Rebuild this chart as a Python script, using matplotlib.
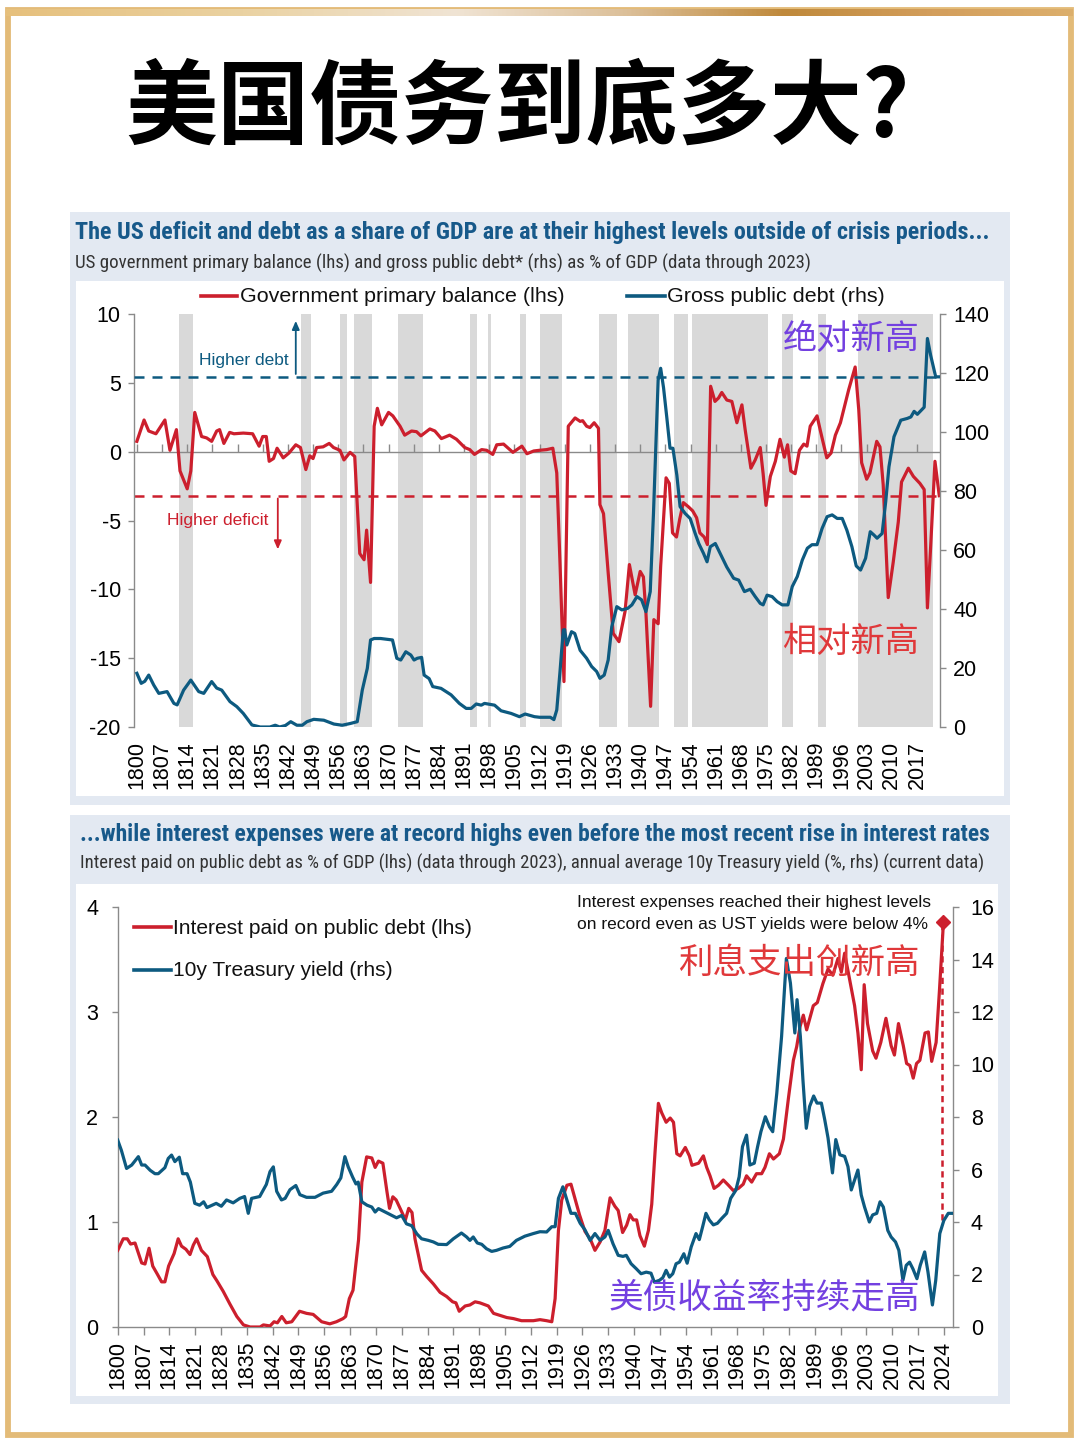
import numpy as np
import matplotlib
matplotlib.use("Agg")
import matplotlib.pyplot as plt
import matplotlib.font_manager as fm
from matplotlib.patches import Rectangle
from matplotlib.lines import Line2D
from matplotlib.colors import LinearSegmentedColormap

# ---------------- DATA ----------------
# Top chart: primary balance (% GDP, lhs)
pb_years = [1800, 1802, 1803.3, 1805.3, 1807.8, 1809.2, 1811, 1812, 1814, 1815, 1816.1, 1818, 1819.4,
            1820.8, 1822.2, 1823, 1824.2, 1825.8, 1827, 1829.6, 1832.2, 1834, 1835, 1836, 1836.8, 1838,
            1839, 1840.7, 1842.3, 1844.2, 1845.5, 1847, 1848.1, 1849, 1850, 1851.8, 1853.5, 1854.7,
            1856.5, 1857.6, 1859.3, 1860.6, 1862, 1863.2, 1863.9, 1865, 1866, 1866.9, 1868.1, 1870,
            1871.2, 1873.2, 1874.5, 1876.4, 1877.8, 1879, 1881.5, 1882.9, 1884.7, 1887, 1888.9, 1891.2,
            1892.6, 1893.9, 1895.9, 1897.3, 1899, 1900.1, 1902, 1904.6, 1907.1, 1908.5, 1910.4, 1912,
            1914, 1915.7, 1916.8, 1917.7, 1918.8, 1920, 1921.9, 1923.3, 1924, 1925.1, 1926, 1927.2,
            1928.4, 1928.8, 1929.8, 1931.1, 1932.5, 1934.1, 1935.8, 1937, 1938.6, 1940, 1940.9, 1941.6,
            1942.9, 1943.8, 1945, 1945.7, 1947.2, 1948.1, 1949, 1950.1, 1951, 1952, 1953.4, 1954.6,
            1955.7, 1956.6, 1957.8, 1958.7, 1959.6, 1960.8, 1961.8, 1962.7, 1964.1, 1965.5, 1966.9,
            1968.3, 1969.2, 1970.8, 1972, 1973.4, 1974.2, 1975, 1976.2, 1977.6, 1978.9, 1980.1, 1981,
            1981.9, 1983.1, 1984.3, 1985.5, 1986.4, 1987.3, 1989.2, 1990.1, 1991.9, 1993.1, 1994.3,
            1995.7, 1997.1, 1998, 1999.8, 2000.8, 2001.6, 2003, 2003.9, 2005.8, 2006.7, 2007.6, 2009,
            2010.4, 2011.8, 2012.7, 2014.6, 2016, 2017.8, 2019, 2019.9, 2020.8, 2022, 2023.2]
pb_vals = [0.75, 2.3, 1.5, 1.3, 2.3, 0.1, 1.6, -1.4, -2.7, -1.4, 2.85, 1.1, 1.0,
           0.75, 1.5, 1.6, 0.6, 1.4, 1.3, 1.35, 1.3, 0.4, 1.1, 1.1, -0.7, -0.5,
           0.25, -0.45, -0.1, 0.5, 0.3, -1.3, -0.3, -0.5, 0.3, 0.35, 0.6, 0.3,
           0.1, -0.6, -0.05, -0.35, -7.4, -7.85, -5.7, -9.5, 1.85, 3.15, 1.95, 2.85,
           2.6, 1.85, 1.2, 1.5, 1.45, 1.15, 1.65, 1.5, 0.95, 1.2, 0.9, 0.3,
           0.15, -0.2, 0.15, 0.1, -0.2, 0.5, 0.55, -0.05, 0.4, -0.15, 0.05, 0.1,
           0.15, 0.25, -1.55, -8.1, -16.7, 1.85, 2.45, 2.2, 2.25, 1.85, 1.75, 2.1,
           1.7, -3.85, -4.5, -8.8, -13.2, -13.8, -11.6, -8.2, -10.4, -8.7, -9.1, -11.7,
           -18.5, -12.2, -12.5, -8.3, -1.9, -2.3, -5.9, -6.2, -4.9, -3.7, -4.0, -4.3,
           -4.8, -5.9, -6.2, -6.75, 4.75, 3.65, 3.9, 4.3, 3.75, 3.65, 2.1,
           3.4, 1.6, -1.2, -0.6, 0.3, -1.6, -3.9, -1.8, -0.7, 0.9, -0.4, 0.5,
           -1.4, -1.6, 0.1, 0.55, 0.4, 1.85, 2.6, 1.55, -0.45, -0.1, 1.2,
           2.1, 3.55, 4.5, 6.15, 3.05, -0.8, -2.0, -1.55, 0.75, 0.35, -2.4, -10.6,
           -8.0, -5.1, -2.2, -1.2, -1.8, -2.3, -2.75, -11.35, -6.9, -0.7, -3.2]

# Top chart: gross public debt (% GDP, rhs)
debt_years = [1800, 1801.2, 1802.2, 1803.3, 1804.7, 1806.1, 1808.4, 1810.3, 1811.2, 1813, 1815, 1817.2,
              1818.6, 1820.8, 1822.2, 1823.6, 1825.9, 1827.8, 1829.6, 1832, 1834.3, 1837, 1838.5, 1839.7,
              1841.3, 1842.8, 1844.5, 1846, 1847.3, 1849.2, 1852, 1854.8, 1857.1, 1859.4, 1861.3, 1862.7,
              1864.1, 1865, 1866, 1867.8, 1871.1, 1872.3, 1873.4, 1874.8, 1876.2, 1877.1, 1878, 1879.2,
              1879.9, 1881.3, 1882.3, 1884.6, 1887.4, 1889.7, 1891.6, 1893, 1894.4, 1895.8, 1896.7,
              1899.5, 1901.3, 1904.1, 1906.4, 1908, 1910.6, 1912, 1915, 1916, 1916.8, 1917.7, 1918.6,
              1919, 1919.6, 1920.9, 1921.8, 1923.3, 1925.1, 1926.5, 1927.9, 1928.8, 1930, 1931.1, 1932.1,
              1933.5, 1934.9, 1936.5, 1937.7, 1939.1, 1940.4, 1941.6, 1942.8, 1943.7, 1944.6, 1945,
              1945.7, 1946.5, 1947.4, 1948.3, 1949.1, 1950.2, 1951.1, 1952.5, 1953.9, 1955.3, 1956.3,
              1957.6, 1958.6, 1959.5, 1960.9, 1962.7, 1964.1, 1966, 1967.4, 1969, 1970.6, 1972, 1973.4,
              1974.2, 1975.3, 1976.7, 1978.1, 1979.5, 1981.1, 1982.3, 1983.7, 1985.1, 1986.5, 1987.8,
              1989.2, 1990.6, 1992, 1993.4, 1994.8, 1996.2, 1997.5, 1998.9, 2000.1, 2001.3, 2002.7, 2004,
              2005, 2005.9, 2007.3, 2008.3, 2009.2, 2010.6, 2012.5, 2014.3, 2015.3, 2016.2, 2017.1,
              2019, 2019.9, 2020.8, 2022.2, 2023.2]
debt_vals = [18.2, 14.8, 15.5, 17.6, 14.2, 11.4, 12.0, 8.0, 7.5, 12.5, 15.9, 12.0,
             11.4, 15.4, 13.2, 12.5, 8.6, 6.9, 4.6, 0.7, 0.0, 0.0, 0.6, 0.0,
             0.5, 1.8, 0.6, 0.6, 1.8, 2.6, 2.3, 1.0, 0.6, 1.2, 1.8, 12.5,
             19.9, 29.5, 30.0, 30.0, 29.5, 23.3, 22.7, 25.5, 24.4, 22.7, 23.3, 23.6,
             17.6, 16.4, 13.7, 13.1, 10.9, 8.0, 6.3, 6.3, 7.8, 7.4, 8.0,
             7.4, 5.5, 4.6, 3.5, 4.4, 3.5, 3.3, 3.3, 2.5, 5.8, 18.8, 32.9,
             33.0, 27.8, 32.3, 31.7, 26.0, 23.3, 20.5, 18.8, 16.5, 17.6, 22.7, 34.0,
             40.8, 39.7, 40.2, 41.4, 44.2, 43.1, 39.1, 45.9, 72.4, 104.0, 117.6,
             121.6, 115.0, 105.0, 94.5, 94.5, 85.4, 74.7, 72.4, 70.7, 65.6, 62.2,
             58.9, 56.0, 61.1, 62.2, 57.7, 54.2, 50.4, 49.8, 45.9, 46.7, 44.2, 41.9,
             41.4, 44.7, 44.2, 42.5, 41.4, 41.4, 47.6, 51.0, 56.6, 60.6, 61.8,
             61.8, 67.3, 71.3, 71.9, 70.7, 70.7, 66.7, 61.1, 54.6, 53.2, 57.2, 66.2,
             65.1, 64.0, 65.6, 76.4, 88.2, 98.4, 104.0, 104.6, 105.1, 107.0, 106.0,
             108.4, 131.7, 126.0, 118.7, 118.7]

# Crisis periods (shaded)
crisis_start = [1811.6, 1845.6, 1856.5, 1860.5, 1872.7, 1892.6, 1897.6, 1906.6, 1912.2, 1928.6,
                1936.6, 1949.4, 1954.4, 1979.5, 1989.5, 2000.6]
crisis_end = [1815.5, 1848.4, 1858.4, 1865.4, 1879.5, 1894.5, 1898.4, 1908.3, 1918.3, 1933.6,
              1945.2, 1953.3, 1975.6, 1982.5, 1991.7, 2021.5]

debt_ref = 118.7      # rhs, dashed blue
deficit_ref = -3.2    # lhs, dashed red

# Bottom chart: interest paid (% GDP, lhs)
int_years = [1800, 1801.5, 1802.6, 1803.5, 1804.7, 1806.5, 1807.4, 1808.5, 1809.5, 1810.8, 1811.9, 1812.8,
             1813.8, 1815.3, 1816.4, 1817.3, 1818.5, 1819.6, 1820.5, 1821.4, 1822.7, 1824.3, 1825.8,
             1826.9, 1828.6, 1830.4, 1832.3, 1834.1, 1835.9, 1838.6, 1839.5, 1841.3, 1842.4, 1843.3,
             1844.5, 1845.7, 1847.2, 1849.3, 1851.2, 1853, 1855.3, 1857.5, 1859.3, 1861.1, 1861.8,
             1862.8, 1863.8, 1865.3, 1866.2, 1867.5, 1868.9, 1869.8, 1870.7, 1871.9, 1873, 1873.7,
             1874.6, 1875.5, 1877.1, 1878, 1878.9, 1879.8, 1880.6, 1882.4, 1883.8, 1885.6, 1887.4,
             1889.2, 1890.8, 1891.7, 1892.6, 1894.2, 1895.5, 1896.9, 1898.2, 1900.5, 1901.9, 1903.7,
             1905.5, 1907.3, 1909.5, 1912.7, 1914.5, 1916.3, 1917.7, 1918.6, 1919.5, 1920.4, 1921.8,
             1922.9, 1924.1, 1925.2, 1926.7, 1928.1, 1929.4, 1930.8, 1932.1, 1933.5, 1934.8, 1935.7,
             1936.9, 1938, 1938.9, 1939.8, 1940.7, 1941.6, 1942.8, 1943.9, 1944.8, 1945.7, 1946.6,
             1947.5, 1948.7, 1949.8, 1950.7, 1951.6, 1952.5, 1953.9, 1955, 1955.7, 1957.5, 1958.8,
             1959.7, 1960.6, 1961.7, 1962.9, 1964.2, 1965.6, 1966.9, 1968.3, 1969.6, 1970.5, 1971.9,
             1973.2, 1974.6, 1975.5, 1976.7, 1977.8, 1979.4, 1980.5, 1981.9, 1983.2, 1984.1, 1985,
             1985.9, 1986.8, 1988.6, 1989.7, 1991.2, 1992.6, 1993.9, 1995.3, 1996.2, 1997.1, 1998.5,
             1999.8, 2000.7, 2001.6, 2002.4, 2003.3, 2004.7, 2005.6, 2006.9, 2008.3, 2009.7, 2010.6,
             2011.7, 2013, 2013.9, 2014.8, 2015.7, 2016.6, 2017.5, 2018.9, 2019.8, 2020.7, 2021.9,
             2022.8, 2023.9]
int_vals = [0.73, 0.84, 0.84, 0.79, 0.8, 0.61, 0.6, 0.75, 0.58, 0.5, 0.43, 0.43,
            0.58, 0.7, 0.84, 0.77, 0.74, 0.69, 0.78, 0.84, 0.73, 0.67, 0.5,
            0.44, 0.34, 0.22, 0.1, 0.02, 0.0, 0.0, 0.02, 0.01, 0.05, 0.04,
            0.1, 0.04, 0.05, 0.15, 0.13, 0.12, 0.05, 0.03, 0.05, 0.08, 0.1,
            0.27, 0.35, 0.83, 1.38, 1.62, 1.61, 1.52, 1.58, 1.56, 1.29, 1.13,
            1.24, 1.21, 1.09, 1.02, 1.13, 1.09, 0.84, 0.54, 0.48, 0.41, 0.33,
            0.29, 0.24, 0.23, 0.15, 0.2, 0.21, 0.24, 0.23, 0.2, 0.13, 0.11,
            0.09, 0.08, 0.06, 0.06, 0.07, 0.06, 0.05, 0.27, 0.92, 1.21, 1.35,
            1.36, 1.21, 1.07, 0.91, 0.84, 0.73, 0.81, 0.92, 1.23, 1.15, 1.11,
            0.9, 0.97, 1.07, 1.02, 1.02, 0.87, 0.77, 0.92, 1.17, 1.67, 2.13,
            2.04, 1.95, 1.99, 1.95, 1.65, 1.63, 1.71, 1.63, 1.54, 1.56, 1.63,
            1.52, 1.44, 1.32, 1.35, 1.4, 1.35, 1.3, 1.32, 1.36, 1.44, 1.38,
            1.46, 1.46, 1.52, 1.65, 1.6, 1.65, 1.79, 2.19, 2.54, 2.67, 2.86,
            2.97, 2.83, 3.06, 3.09, 3.27, 3.41, 3.35, 3.51, 3.38, 3.56, 3.3,
            3.06, 2.8, 2.45, 3.26, 2.89, 2.63, 2.56, 2.71, 2.94, 2.68, 2.59,
            2.89, 2.68, 2.51, 2.49, 2.37, 2.51, 2.54, 2.8, 2.81, 2.53, 2.71,
            3.2, 3.86]

# Bottom chart: 10y Treasury yield (%, rhs)
yld_years = [1800, 1801, 1802.4, 1803.8, 1805.6, 1806.5, 1807.4, 1808.8, 1810.1, 1811, 1812.8, 1813.7,
             1814.6, 1815.5, 1816.7, 1817.6, 1818.8, 1819.7, 1820.9, 1822.2, 1823.3, 1824.2, 1826.7,
             1828.1, 1829.5, 1831.3, 1833.1, 1834.4, 1835.4, 1836.3, 1838.5, 1840.3, 1841.3, 1842.2,
             1843.1, 1844.4, 1845.4, 1846.7, 1848.3, 1849.4, 1851.2, 1853.5, 1855.7, 1858, 1859.4,
             1860.5, 1861.6, 1862.5, 1863.7, 1864.6, 1865.2, 1866.2, 1867.6, 1868.9, 1869.8, 1870.7,
             1872.5, 1874.3, 1875.6, 1877, 1878.3, 1879.7, 1881.1, 1882.4, 1884.2, 1885.6, 1886.9,
             1889.2, 1891, 1893.2, 1894.6, 1895.5, 1896.4, 1897.5, 1898.7, 1900, 1901.4, 1902.7,
             1904.5, 1906.3, 1908.1, 1910.4, 1912.7, 1914.5, 1916.3, 1917.7, 1918.6, 1919.5, 1920.7,
             1921.8, 1922.9, 1924.1, 1925.4, 1926.7, 1928.1, 1929.4, 1930.8, 1932.1, 1933, 1934.3,
             1935.7, 1937, 1937.9, 1939.2, 1940.6, 1941.9, 1943.3, 1944.6, 1945.5, 1946.9, 1947.8,
             1948.7, 1949.6, 1950.5, 1951.4, 1952.3, 1953.5, 1954.4, 1955.5, 1956.8, 1957.7, 1958.6,
             1959.5, 1960.4, 1961.5, 1962.6, 1963.8, 1965.1, 1966.2, 1967.6, 1968.5, 1969.4, 1970.5,
             1971.4, 1972.6, 1973.5, 1974.4, 1975.6, 1976.7, 1977.6, 1978.7, 1980, 1981.3, 1982.4,
             1983.6, 1984.2, 1985.1, 1985.8, 1986.7, 1987.6, 1988.7, 1989.6, 1990.8, 1991.7, 1992.6,
             1993.8, 1994.7, 1995.8, 1997.1, 1998, 1998.9, 1999.8, 2000.7, 2001.6, 2002.5, 2003.8,
             2004.7, 2005.8, 2006.7, 2007.6, 2008.8, 2009.7, 2010.9, 2011.8, 2012.9, 2013.8, 2014.7,
             2015.6, 2016.7, 2017.6, 2018.8, 2019.7, 2020.9, 2021.8, 2022.9, 2024, 2025.2, 2026.2]
yld_vals = [7.12, 6.73, 6.04, 6.17, 6.49, 6.17, 6.17, 5.97, 5.84, 5.84, 6.07, 6.42,
            6.55, 6.3, 6.47, 5.84, 5.84, 5.52, 4.71, 4.64, 4.77, 4.55, 4.71,
            4.6, 4.84, 4.73, 4.9, 4.97, 4.33, 4.9, 4.97, 5.43, 5.92, 6.1,
            5.17, 4.84, 4.9, 5.23, 5.39, 5.04, 4.94, 4.94, 5.1, 5.17, 5.43,
            5.68, 6.49, 6.1, 5.71, 5.45, 5.52, 4.77, 4.64, 4.57, 4.38, 4.51,
            4.38, 4.25, 4.16, 4.25, 3.93, 3.86, 3.55, 3.36, 3.3, 3.24, 3.15,
            3.14, 3.36, 3.58, 3.43, 3.3, 3.43, 3.2, 3.15, 2.98, 2.88, 2.92,
            3.01, 3.07, 3.3, 3.46, 3.56, 3.63, 3.62, 3.82, 3.82, 4.9, 5.34,
            4.84, 4.33, 4.33, 3.95, 3.7, 3.3, 3.56, 3.3, 3.43, 3.68, 3.17,
            2.73, 2.69, 2.73, 2.41, 2.22, 2.03, 2.09, 2.05, 1.71, 1.78, 1.88,
            2.16, 1.9, 2.03, 2.41, 2.47, 2.79, 2.43, 3.05, 3.56, 3.33, 3.82,
            4.33, 4.08, 3.89, 3.95, 4.14, 4.33, 4.9, 5.21, 5.72, 6.87, 7.31,
            6.17, 6.24, 6.87, 7.44, 8.01, 7.63, 7.44, 8.9, 11.06, 14.04, 13.1,
            11.2, 12.47, 11.06, 9.4, 7.57, 8.4, 8.8, 8.53, 8.53, 7.9, 7.2,
            5.87, 7.14, 6.56, 6.5, 6.11, 5.22, 5.6, 5.98, 5.03, 4.57, 4.0,
            4.27, 4.33, 4.77, 4.57, 3.68, 3.43, 3.24, 2.92, 1.78, 2.35, 2.47,
            2.22, 1.84, 2.35, 2.86, 2.09, 0.84, 1.78, 3.56, 4.06, 4.33, 4.33]

peak_year = 2023.9
peak_val = 3.86
gap_year = 2023.5
gap_low = 1.02

top_ticks = list(range(1800, 2018, 7))
bot_ticks = list(range(1800, 2025, 7))

# ---------------- STYLE ----------------
ttf = fm.fontManager.ttflist
avail = {f.name for f in ttf}
SANS = 'Liberation Sans' if 'Liberation Sans' in avail else 'DejaVu Sans'
NARROW, NSTRETCH = SANS, 'normal'
for cand in ['Liberation Sans Narrow', 'Arial Narrow', 'Roboto Condensed', 'Open Sans Condensed',
             'Noto Sans Condensed', 'DejaVu Sans Condensed']:
    if cand in avail:
        NARROW = cand
        break
else:
    cond = [f for f in ttf if str(f.stretch) in ('condensed', 'semi-condensed', '75', '87.5')
            or 'Narrow' in f.name or 'Condensed' in f.name]
    if cond:
        pref = [f for f in cond if f.name in ('Liberation Sans', 'Noto Sans', 'Roboto', 'Open Sans', 'DejaVu Sans')]
        pick = (pref or cond)[0]
        NARROW, NSTRETCH = pick.name, 'condensed'
CJK = 'Noto Sans CJK SC'
plt.rcParams['font.family'] = [SANS, 'DejaVu Sans']
plt.rcParams['axes.unicode_minus'] = False

RED = '#cc1f2d'
BLUE = '#0d5a80'
HEAD = '#17598a'
GRID = '#8a8a8a'
SHADE = '#d9d9d9'
PANEL = '#e3e9f2'
PURPLE = '#7340e0'
CRED = '#e0383a'

W, H = 1080, 1443
fig = plt.figure(figsize=(W / 100, H / 100), dpi=100)
fig.patch.set_facecolor('white')
renderer = fig.canvas.get_renderer()


def fx(x):
    return x / W


def fy(y):
    return 1 - y / H


def rect(x0, y0, x1, y1, **kw):
    r = Rectangle((fx(x0), fy(y1)), fx(x1) - fx(x0), fy(y0) - fy(y1), transform=fig.transFigure, **kw)
    fig.patches.append(r)
    return r


def fit(t, width):
    bb = t.get_window_extent(renderer)
    t.set_fontsize(t.get_fontsize() * width / bb.width)
    return t


def ftext(x, y, s, width=None, ha='left', va='center', **kw):
    t = fig.text(fx(x), fy(y), s, ha=ha, va=va, **kw)
    if width:
        fit(t, width)
    return t


# gold frame
rect(8, 10, 1071, 1435, fill=False, edgecolor='#e3bb78', lw=4.2, zorder=-4)
gax = fig.add_axes([fx(6), fy(16), fx(1067), 7 / H], zorder=-3)
cmap = LinearSegmentedColormap.from_list('gold', [(0.0, '#e6c07c'), (0.22, '#ead2a2'), (0.42, '#f0e4d4'),
                                                  (0.58, '#dcc09a'), (0.73, '#bf893b'), (0.87, '#d39e5c'),
                                                  (1.0, '#dcaf6c')])
gax.imshow(np.linspace(0, 1, 512)[None, :], aspect='auto', cmap=cmap)
gax.set_axis_off()

# title
ftext(517, 110, '美国债务到底多大?', width=785, ha='center', family=[CJK, 'DejaVu Sans'],
      fontweight='heavy', fontsize=60, color='black')

# panels
rect(70, 212, 1010, 805, facecolor=PANEL, edgecolor='none', zorder=-5)
rect(76, 281, 1004, 796, facecolor='white', edgecolor='none', zorder=-4)
rect(70, 815, 1010, 1404, facecolor=PANEL, edgecolor='none', zorder=-5)
rect(76, 884, 998, 1396, facecolor='white', edgecolor='none', zorder=-4)

ftext(75, 233, 'The US deficit and debt as a share of GDP are at their highest levels outside of crisis periods...',
      width=915, family=[NARROW, SANS], fontstretch=NSTRETCH, fontweight='bold', fontsize=15, color=HEAD)
ftext(75, 263, 'US government primary balance (lhs) and gross public debt* (rhs) as % of GDP (data through 2023)',
      width=733, family=[NARROW, SANS], fontstretch=NSTRETCH, fontsize=11, color='#333333')
ftext(80, 834, '...while interest expenses were at record highs even before the most recent rise in interest rates',
      width=913, family=[NARROW, SANS], fontstretch=NSTRETCH, fontweight='bold', fontsize=15, color=HEAD)
ftext(80, 863, 'Interest paid on public debt as % of GDP (lhs) (data through 2023), annual average 10y Treasury yield (%, rhs) (current data)',
      width=900, family=[NARROW, SANS], fontstretch=NSTRETCH, fontsize=11, color='#333333')

TICKFS = 15.5

# ---------------- TOP CHART ----------------
ax = fig.add_axes([fx(134), fy(727), fx(940) - fx(134), fy(314) - fy(727)])
ax.set_facecolor('none')
ax.set_xlim(1799.2, 2023.4)
ax.set_ylim(-20, 10)
for s0, s1 in zip(crisis_start, crisis_end):
    ax.axvspan(s0, s1, color=SHADE, lw=0, zorder=0)
ax.axhline(0, color=GRID, lw=1.0, zorder=1)
ax.vlines(top_ticks, 0, 0.55, color=GRID, lw=1.0, zorder=1)
ax.axhline(deficit_ref, color=RED, lw=1.8, ls=(0, (4, 3.2)), zorder=2)
ax.plot(pb_years, pb_vals, color=RED, lw=2.3, zorder=3, solid_joinstyle='round')
ax.set_yticks([10, 5, 0, -5, -10, -15, -20])
ax.set_xticks(top_ticks)
ax.set_xticklabels([str(t) for t in top_ticks], rotation=90)
ax.tick_params(axis='x', length=0, pad=10, labelsize=TICKFS)
ax.tick_params(axis='y', length=4.5, width=1, color=GRID, pad=5, labelsize=TICKFS)
for sp in ['top', 'right', 'bottom']:
    ax.spines[sp].set_visible(False)
ax.spines['left'].set_color(GRID)
ax.spines['left'].set_linewidth(1.0)

ax.annotate('', xy=(1844.2, 9.7), xytext=(1844.2, 5.44),
            arrowprops=dict(arrowstyle='-|>,head_length=0.5,head_width=0.22', color=BLUE, lw=1.3), zorder=4)
ax.annotate('', xy=(1839.2, -7.3), xytext=(1839.2, deficit_ref),
            arrowprops=dict(arrowstyle='-|>,head_length=0.5,head_width=0.22', color=RED, lw=1.3), zorder=4)
ax.text(1842.3, 6.6, 'Higher debt', color=BLUE, fontsize=12.5, ha='right', va='center')
ax.text(1836.6, -5.0, 'Higher deficit', color=RED, fontsize=12.5, ha='right', va='center')

ax2 = ax.twinx()
ax2.set_ylim(0, 140)
ax2.set_xlim(1799.2, 2023.4)
ax2.axhline(debt_ref, color=BLUE, lw=1.8, ls=(0, (4, 3.2)), zorder=2)
ax2.plot(debt_years, debt_vals, color=BLUE, lw=2.3, zorder=3, solid_joinstyle='round')
ax2.set_yticks(range(0, 141, 20))
ax2.tick_params(axis='y', length=4.5, width=1, color=GRID, pad=5, labelsize=TICKFS)
for sp in ['top', 'left', 'bottom']:
    ax2.spines[sp].set_visible(False)
ax2.spines['right'].set_color(GRID)
ax2.spines['right'].set_linewidth(1.0)

# top legend
fig.lines.append(Line2D([fx(201), fx(237)], [fy(296), fy(296)], color=RED, lw=2.6, transform=fig.transFigure))
lt = ftext(240, 297, 'Government primary balance (lhs)', width=325, fontsize=15, color='#111111')
fig.lines.append(Line2D([fx(627), fx(665)], [fy(296), fy(296)], color=BLUE, lw=2.6, transform=fig.transFigure))
ftext(667, 297, 'Gross public debt (rhs)', fontsize=lt.get_fontsize(), color='#111111')

ftext(851, 339, '绝对新高', width=137, ha='center', family=[CJK, 'DejaVu Sans'], fontweight='light',
      fontsize=24, color=PURPLE)
ftext(851, 642, '相对新高', width=137, ha='center', family=[CJK, 'DejaVu Sans'], fontweight='light',
      fontsize=24, color=CRED)

# ---------------- BOTTOM CHART ----------------
bx = fig.add_axes([fx(117.7), fy(1327), fx(952.7) - fx(117.7), fy(907) - fy(1327)])
bx.set_facecolor('none')
bx.set_xlim(1800, 2026.4)
bx.set_ylim(0, 4)
bx.vlines([gap_year], gap_low, peak_val, color=RED, lw=1.8, ls=(0, (2.5, 1.8)), zorder=2)
bx.plot(int_years, int_vals, color=RED, lw=2.3, zorder=3, solid_joinstyle='round')
bx.plot([peak_year], [peak_val], marker='D', ms=7.5, color=RED, zorder=4)
bx.set_yticks([0, 1, 2, 3, 4])
bx.set_xticks(bot_ticks)
bx.set_xticklabels([str(t) for t in bot_ticks], rotation=90)
bx.tick_params(axis='x', length=6, width=1, color=GRID, pad=4, labelsize=TICKFS)
bx.tick_params(axis='y', length=4, width=1, color=GRID, pad=10, labelsize=TICKFS)
for sp in ['top', 'right']:
    bx.spines[sp].set_visible(False)
for sp in ['left', 'bottom']:
    bx.spines[sp].set_color(GRID)
    bx.spines[sp].set_linewidth(1.0)

bx2 = bx.twinx()
bx2.set_ylim(0, 16)
bx2.set_xlim(1800, 2026.4)
bx2.plot(yld_years, yld_vals, color=BLUE, lw=2.3, zorder=3, solid_joinstyle='round')
bx2.set_yticks(range(0, 17, 2))
bx2.tick_params(axis='y', length=4, width=1, color=GRID, pad=9, labelsize=TICKFS)
for sp in ['top', 'left', 'bottom']:
    bx2.spines[sp].set_visible(False)
bx2.spines['right'].set_color(GRID)
bx2.spines['right'].set_linewidth(1.0)

fig.lines.append(Line2D([fx(134), fx(171)], [fy(927), fy(927)], color=RED, lw=2.6, transform=fig.transFigure))
lb = ftext(173, 928, 'Interest paid on public debt (lhs)', width=299, fontsize=15, color='#111111')
fig.lines.append(Line2D([fx(134), fx(171)], [fy(970), fy(970)], color=BLUE, lw=2.6, transform=fig.transFigure))
ftext(173, 971, '10y Treasury yield (rhs)', fontsize=lb.get_fontsize(), color='#111111')

an = ftext(577, 903, 'Interest expenses reached their highest levels', width=355, fontsize=12, color='#111111')
ftext(577, 924, 'on record even as UST yields were below 4%', fontsize=an.get_fontsize(), color='#111111')

ftext(799, 963, '利息支出创新高', width=242, ha='center', family=[CJK, 'DejaVu Sans'], fontweight='light',
      fontsize=24, color=CRED)
ftext(764, 1298, '美债收益率持续走高', width=312, ha='center', family=[CJK, 'DejaVu Sans'], fontweight='light',
      fontsize=24, color=PURPLE)

fig.savefig('out.png', dpi=100, facecolor='white')
